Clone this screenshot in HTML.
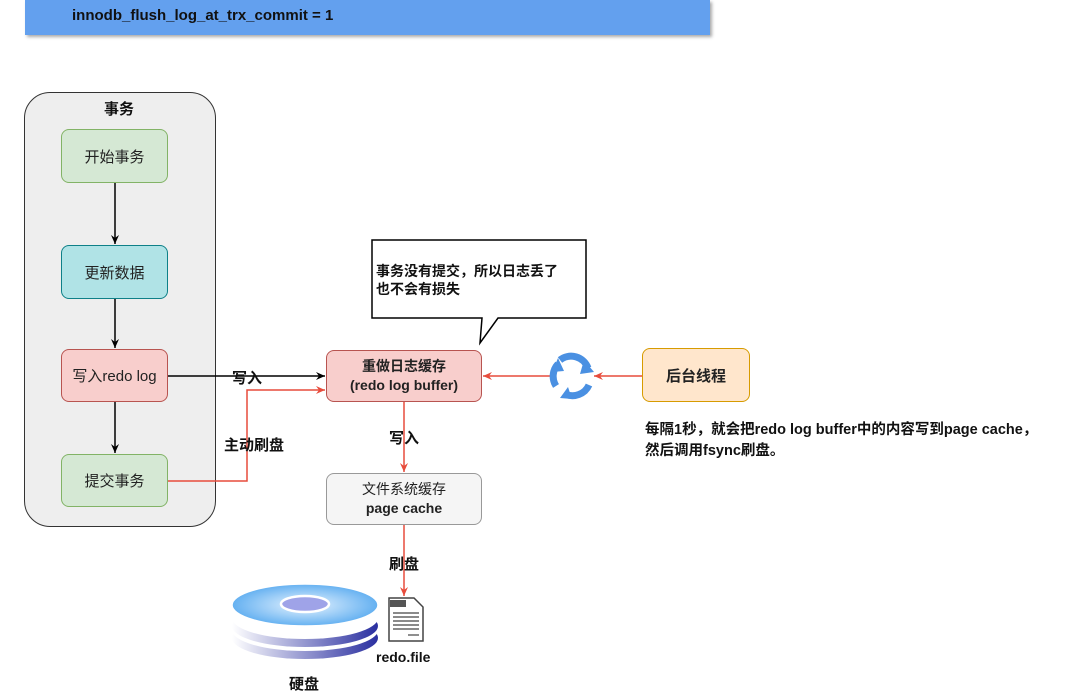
<!DOCTYPE html>
<html><head><meta charset="utf-8"><style>
body{margin:0;width:1080px;height:699px;background:#fff;position:relative;overflow:hidden;font-family:"Liberation Sans","Noto Sans CJK SC",sans-serif;}
.b{position:absolute;box-sizing:border-box;display:flex;align-items:center;justify-content:center;text-align:center;font-size:15px;color:#222;border-radius:8px;}
.c{display:block;width:100%;}
.t{position:absolute;font-size:15px;font-weight:bold;color:#111;white-space:nowrap;}
</style></head><body>
<div style="position:absolute;left:25px;top:0;width:685px;height:35px;background:#63a0ee;box-shadow:2px 2px 3px #aaa;"></div>
<div class="t" style="left:72px;top:7px;font-size:15px;">innodb_flush_log_at_trx_commit = 1</div>
<div style="position:absolute;left:24px;top:92px;width:192px;height:435px;box-sizing:border-box;border:1.5px solid #333;border-radius:26px;background:#eee;"></div>
<div class="t" style="left:104px;top:98px;">事务</div>
<div class="b" style="left:61px;top:129px;width:107px;height:54px;background:#d5e8d4;border:1.5px solid #82b366;">开始事务</div>
<div class="b" style="left:61px;top:245px;width:107px;height:54px;background:#b0e3e6;border:1.5px solid #0e8088;">更新数据</div>
<div class="b" style="left:61px;top:349px;width:107px;height:53px;background:#f8cecc;border:1.5px solid #b85450;">写入redo log</div>
<div class="b" style="left:61px;top:454px;width:107px;height:53px;background:#d5e8d4;border:1.5px solid #82b366;">提交事务</div>
<div class="b" style="left:326px;top:350px;width:156px;height:52px;background:#f8cecc;border:1.5px solid #b85450;font-weight:bold;font-size:14px;line-height:19px;"><span class="c">重做日志缓存<br>(redo log buffer)</span></div>
<div class="b" style="left:326px;top:473px;width:156px;height:52px;background:#f5f5f5;border:1.5px solid #999;font-size:14px;line-height:19px;"><span class="c">文件系统缓存<br><b>page cache</b></span></div>
<div class="b" style="left:642px;top:348px;width:108px;height:54px;background:#ffe6cc;border:1.5px solid #d79b00;font-weight:bold;">后台线程</div>
<svg width="1080" height="699" style="position:absolute;left:0;top:0">
<defs>
<marker id="ak" markerWidth="10" markerHeight="10" refX="9" refY="5" orient="auto" markerUnits="userSpaceOnUse"><path d="M0,1 L9,5 L0,9 L3,5z" fill="#000"/></marker>
<marker id="ar" markerWidth="10" markerHeight="10" refX="9" refY="5" orient="auto" markerUnits="userSpaceOnUse"><path d="M0,1 L9,5 L0,9 L3,5z" fill="#e74c3c"/></marker>
<linearGradient id="dg" x1="0" x2="1"><stop offset="0" stop-color="#fff"/><stop offset="1" stop-color="#2a2fa0"/></linearGradient>
<radialGradient id="tg" cx="0.5" cy="0.5" r="0.6"><stop offset="0" stop-color="#e8f4ff"/><stop offset="1" stop-color="#4aa3ee"/></radialGradient>
</defs>
<g stroke="#000" stroke-width="1.5" fill="none">
<line x1="115" y1="183" x2="115" y2="244" marker-end="url(#ak)"/>
<line x1="115" y1="299" x2="115" y2="348" marker-end="url(#ak)"/>
<line x1="115" y1="402" x2="115" y2="453" marker-end="url(#ak)"/>
<line x1="168" y1="376" x2="325" y2="376" marker-end="url(#ak)"/>
</g>
<g stroke="#e74c3c" stroke-width="1.5" fill="none">
<polyline points="168,481 247,481 247,390 325,390" marker-end="url(#ar)"/>
<line x1="404" y1="402" x2="404" y2="472" marker-end="url(#ar)"/>
<line x1="404" y1="525" x2="404" y2="596" marker-end="url(#ar)"/>
<line x1="550" y1="376" x2="483" y2="376" marker-end="url(#ar)"/>
<line x1="642" y1="376" x2="594" y2="376" marker-end="url(#ar)"/>
</g>
<path d="M372,240 H586 V318 H498 L480,343 L482,318 H372 Z" fill="#fff" stroke="#000" stroke-width="1.5"/>
<g fill="none" stroke="#4a90e2" stroke-width="7">
<path d="M560,360 A18,18 0 0 1 588,368"/>
<path d="M589,385 A18,18 0 0 1 565,394"/>
<path d="M556,386 A18,18 0 0 1 558,364"/>
</g>
<g fill="#4a90e2"><path d="M584,360 L594,372 L580,374z"/><path d="M568,387 L560,398 L572,399z"/><path d="M552,372 L558,358 L564,371z"/></g>
<ellipse cx="305" cy="638" rx="73" ry="21" fill="url(#dg)"/>
<ellipse cx="305" cy="630" rx="73" ry="21" fill="#fff"/>
<ellipse cx="305" cy="626" rx="73" ry="21" fill="url(#dg)"/>
<ellipse cx="305" cy="618" rx="73" ry="21" fill="#fff"/>
<ellipse cx="305" cy="605" rx="73" ry="21" fill="url(#tg)" stroke="#fff" stroke-width="1.5"/>
<ellipse cx="305" cy="604" rx="24" ry="8" fill="#9fa3e8" stroke="#fff" stroke-width="2.5"/>
<path d="M389,598 H414 L423,607 V641 H389 Z" fill="#fff" stroke="#444" stroke-width="1.5"/>
<rect x="390" y="600" width="16" height="7" fill="#555"/>
<g stroke="#444" stroke-width="1.2"><line x1="393" y1="613" x2="419" y2="613"/><line x1="393" y1="617" x2="419" y2="617"/><line x1="393" y1="621" x2="419" y2="621"/><line x1="393" y1="625" x2="419" y2="625"/><line x1="393" y1="629" x2="419" y2="629"/><line x1="408" y1="635" x2="419" y2="635"/></g>
</svg>
<div class="t" style="left:376px;top:262px;font-size:14px;line-height:18px;">事务没有提交，所以日志丢了<br>也不会有损失</div>
<div class="t" style="left:232px;top:367px;">写入</div>
<div class="t" style="left:224px;top:434px;">主动刷盘</div>
<div class="t" style="left:389px;top:427px;">写入</div>
<div class="t" style="left:389px;top:553px;">刷盘</div>
<div class="t" style="left:376px;top:649px;font-size:14px;">redo.file</div>
<div class="t" style="left:289px;top:673px;">硬盘</div>
<div class="t" style="left:645px;top:420px;font-size:14.5px;line-height:21px;">每隔1秒，就会把redo log buffer中的内容写到page cache，<br>然后调用fsync刷盘。</div>
</body></html>
